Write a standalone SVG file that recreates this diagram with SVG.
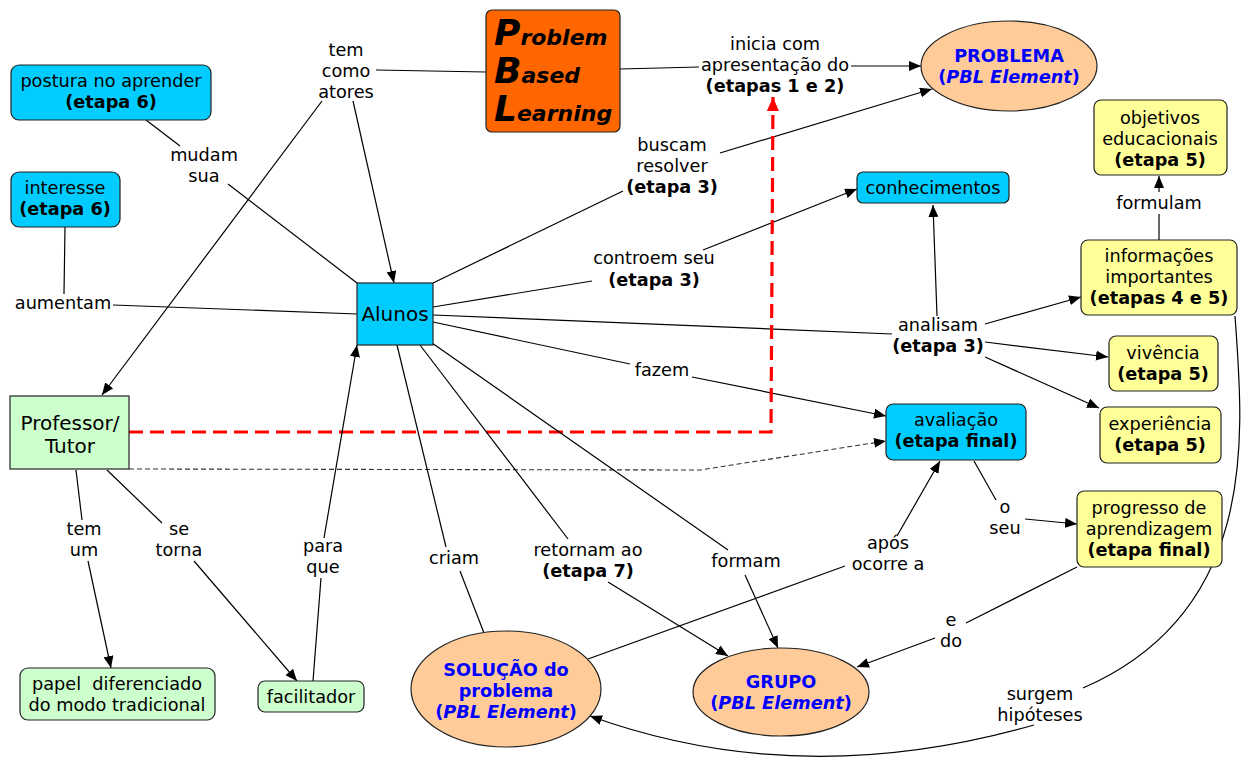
<svg xmlns="http://www.w3.org/2000/svg" width="1242" height="761" viewBox="0 0 1242 761">
<defs>
<style>
text{font-family:"DejaVu Sans","Liberation Sans",sans-serif;font-size:17.7px;fill:#000;text-anchor:middle}
.b{font-weight:bold}
.bl{fill:#0000FF;font-weight:bold}
.i{font-style:italic}
.big{font-size:20px}
.pbl{font-weight:bold;font-style:italic;text-anchor:start}
.c{fill:none;stroke:#000;stroke-width:1.2}
.a{marker-end:url(#ah)}
.cy{fill:#00CCFF;stroke:#222;stroke-width:1.2}
.ye{fill:#FFFF99;stroke:#222;stroke-width:1.2}
.gr{fill:#CCFFCC;stroke:#222;stroke-width:1.2}
.pe{fill:#FFCC99;stroke:#222;stroke-width:1.2}
</style>
<marker id="ah" viewBox="0 0 12 10" refX="12" refY="5" markerWidth="12" markerHeight="10" orient="auto" markerUnits="userSpaceOnUse"><path d="M0,0 L12,5 L0,10 z" fill="#000"/></marker>
<marker id="ahr" viewBox="0 0 14 12" refX="14" refY="6" markerWidth="14" markerHeight="12" orient="auto" markerUnits="userSpaceOnUse"><path d="M0,0 L14,6 L0,12 z" fill="#FF0000"/></marker>
</defs>
<rect width="1242" height="761" fill="#fff"/>

<g id="connectors">
<!-- tem como atores -->
<path class="c" d="M486,72 L376,70"/>
<path class="c a" d="M322,101 L102,395"/>
<path class="c a" d="M353,101 L394,283"/>
<!-- mudam sua -->
<path class="c" d="M146,120 L180,146"/>
<path class="c" d="M228,184 L357,283"/>
<!-- aumentam -->
<path class="c" d="M65,227 L64,294"/>
<path class="c" d="M113,305 L357,314"/>
<!-- inicia com -->
<path class="c" d="M620,69 L699,67"/>
<path class="c a" d="M851,66 L921,66"/>
<!-- buscam resolver -->
<path class="c" d="M433,283 L623,191"/>
<path class="c a" d="M720,153 L932,89"/>
<!-- controem seu -->
<path class="c" d="M433,307 L592,281"/>
<path class="c a" d="M703,250 L857,189"/>
<!-- analisam -->
<path class="c" d="M433,315 L892,334"/>
<path class="c a" d="M937,316 L933,205"/>
<path class="c a" d="M985,324 L1081,297"/>
<path class="c a" d="M985,342 L1108,357"/>
<path class="c a" d="M985,357 L1099,408"/>
<!-- fazem -->
<path class="c" d="M433,322 L630,364"/>
<path class="c a" d="M692,377 L886,416"/>
<!-- formulam -->
<path class="c" d="M1159,240 L1159,214"/>
<path class="c a" d="M1159,192 L1159,176"/>
<!-- red dashed -->
<path d="M129,432 L771,432 L773,97" fill="none" stroke="#FF0000" stroke-width="3.2" stroke-dasharray="14,7" marker-end="url(#ahr)"/>
<!-- dashed to avaliação -->
<path class="a" d="M129,469 L700,470 L886,441" fill="none" stroke="#333" stroke-width="1.1" stroke-dasharray="5,3"/>
<!-- tem um -->
<path class="c" d="M76,470 L82,520"/>
<path class="c a" d="M88,561 L111,668"/>
<!-- se torna -->
<path class="c" d="M107,470 L162,523"/>
<path class="c a" d="M194,561 L297,681"/>
<!-- para que -->
<path class="c" d="M313,681 L321,578"/>
<path class="c a" d="M324,538 L357,345"/>
<!-- criam -->
<path class="c" d="M397,345 L446,547"/>
<path class="c" d="M460,571 L484,633"/>
<!-- retornam ao -->
<path class="c" d="M420,345 L568,539"/>
<path class="c a" d="M608,582 L728,656"/>
<!-- formam -->
<path class="c" d="M432,343 L728,550"/>
<path class="c a" d="M745,575 L778,648"/>
<!-- após ocorre a -->
<path class="c" d="M588,659 L845,566"/>
<path class="c a" d="M897,536 L940,461"/>
<!-- o seu -->
<path class="c" d="M974,461 L996,500"/>
<path class="c a" d="M1025,519 L1077,524"/>
<!-- e do -->
<path class="c" d="M1077,567 L966,623"/>
<path class="c a" d="M935,638 L857,667"/>
<!-- surgem hipóteses -->
<path class="c" d="M1235,316 C1243,430 1262,610 1083,688"/>
<path class="c a" d="M1034,725 Q800,792 590,716"/>
</g>

<g id="pbl">
<rect x="486" y="10" width="134" height="122" rx="6" fill="#FF6600" stroke="#222" stroke-width="1.2"/>
<text class="pbl" x="494" y="45"><tspan font-size="36">P</tspan><tspan font-size="22">roblem</tspan></text>
<text class="pbl" x="494" y="83"><tspan font-size="36">B</tspan><tspan font-size="22">ased</tspan></text>
<text class="pbl" x="494" y="121"><tspan font-size="36">L</tspan><tspan font-size="22">earning</tspan></text>
</g>

<g id="problema">
<ellipse class="pe" cx="1009" cy="66" rx="88" ry="45"/>
<text class="bl" x="1009" y="62">PROBLEMA</text>
<text class="bl" x="1009" y="83">(<tspan class="i">PBL Element</tspan>)</text>
</g>

<g id="postura">
<rect class="cy" x="11" y="65" width="200" height="55" rx="8"/>
<text x="111" y="87">postura no aprender</text>
<text class="b" x="111" y="108">(etapa 6)</text>
</g>

<g id="interesse">
<rect class="cy" x="11" y="172" width="109" height="55" rx="8"/>
<text x="65" y="194">interesse</text>
<text class="b" x="65" y="215">(etapa 6)</text>
</g>

<g id="alunos">
<rect class="cy" x="357" y="283" width="76" height="62"/>
<text class="big" x="395" y="321">Alunos</text>
</g>

<g id="professor">
<rect class="gr" x="10" y="396" width="119" height="73"/>
<text class="big" x="70" y="430">Professor/</text>
<text class="big" x="70" y="453">Tutor</text>
</g>

<g id="conhecimentos">
<rect class="cy" x="857" y="172" width="152" height="31" rx="6"/>
<text x="933" y="194">conhecimentos</text>
</g>

<g id="objetivos">
<rect class="ye" x="1094" y="100" width="133" height="75" rx="7"/>
<text x="1160" y="124">objetivos</text>
<text x="1160" y="145">educacionais</text>
<text class="b" x="1160" y="166">(etapa 5)</text>
</g>

<g id="informacoes">
<rect class="ye" x="1081" y="240" width="156" height="75" rx="7"/>
<text x="1159" y="262">informações</text>
<text x="1159" y="283">importantes</text>
<text class="b" x="1159" y="304">(etapas 4 e 5)</text>
</g>

<g id="vivencia">
<rect class="ye" x="1109" y="336" width="109" height="55" rx="7"/>
<text x="1163" y="359">vivência</text>
<text class="b" x="1163" y="380">(etapa 5)</text>
</g>

<g id="experiencia">
<rect class="ye" x="1100" y="407" width="121" height="56" rx="7"/>
<text x="1160" y="430">experiência</text>
<text class="b" x="1160" y="451">(etapa 5)</text>
</g>

<g id="avaliacao">
<rect class="cy" x="886" y="404" width="140" height="56" rx="7"/>
<text x="956" y="426">avaliação</text>
<text class="b" x="956" y="447">(etapa final)</text>
</g>

<g id="progresso">
<rect class="ye" x="1077" y="491" width="145" height="76" rx="7"/>
<text x="1149" y="514">progresso de</text>
<text x="1149" y="535">aprendizagem</text>
<text class="b" x="1149" y="556">(etapa final)</text>
</g>

<g id="papel">
<rect class="gr" x="20" y="668" width="195" height="52" rx="8"/>
<text x="117" y="690" xml:space="preserve">papel  diferenciado</text>
<text x="117" y="711">do modo tradicional</text>
</g>

<g id="facilitador">
<rect class="gr" x="258" y="681" width="106" height="31" rx="7"/>
<text x="311" y="703">facilitador</text>
</g>

<g id="solucao">
<ellipse class="pe" cx="506" cy="689" rx="95" ry="58"/>
<text class="bl" x="506" y="676">SOLUÇÃO do</text>
<text class="bl" x="506" y="697">problema</text>
<text class="bl" x="506" y="718">(<tspan class="i">PBL Element</tspan>)</text>
</g>

<g id="grupo">
<ellipse class="pe" cx="781" cy="692" rx="88" ry="44"/>
<text class="bl" x="781" y="688">GRUPO</text>
<text class="bl" x="781" y="709">(<tspan class="i">PBL Element</tspan>)</text>
</g>

<g id="labels">
<text x="346" y="56">tem</text>
<text x="346" y="77">como</text>
<text x="346" y="98">atores</text>
<text x="204" y="161">mudam</text>
<text x="204" y="182">sua</text>
<text x="63" y="309">aumentam</text>
<text x="775" y="50">inicia com</text>
<text x="775" y="71">apresentação do</text>
<text class="b" x="775" y="92">(etapas 1 e 2)</text>
<text x="672" y="151">buscam</text>
<text x="672" y="172">resolver</text>
<text class="b" x="672" y="193">(etapa 3)</text>
<text x="654" y="264">controem seu</text>
<text class="b" x="654" y="286">(etapa 3)</text>
<text x="938" y="331">analisam</text>
<text class="b" x="938" y="352">(etapa 3)</text>
<text x="662" y="376">fazem</text>
<text x="1159" y="209">formulam</text>
<text x="84" y="535">tem</text>
<text x="84" y="556">um</text>
<text x="179" y="535">se</text>
<text x="179" y="556">torna</text>
<text x="323" y="552">para</text>
<text x="323" y="573">que</text>
<text x="454" y="564">criam</text>
<text x="588" y="556">retornam ao</text>
<text class="b" x="588" y="577">(etapa 7)</text>
<text x="746" y="567">formam</text>
<text x="888" y="549">após</text>
<text x="888" y="570">ocorre a</text>
<text x="1005" y="513">o</text>
<text x="1005" y="534">seu</text>
<text x="951" y="626">e</text>
<text x="951" y="647">do</text>
<text x="1040" y="700">surgem</text>
<text x="1040" y="721">hipóteses</text>
</g>
</svg>
